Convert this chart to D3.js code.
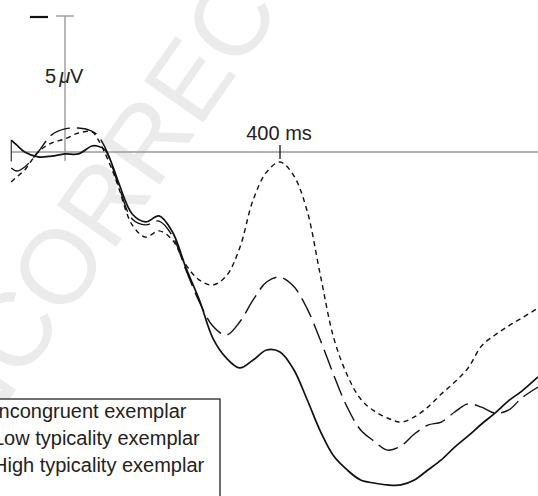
<!DOCTYPE html>
<html>
<head>
<meta charset="utf-8">
<script src="https://cdn.jsdelivr.net/npm/d3@7"></script>
<style>
  body { margin: 0; background: #fff; }
  svg { display: block; }
  text { font-family: "Liberation Sans", Arial, Helvetica, sans-serif; fill: #222; }
</style>
</head>
<body>
<div id="vis"></div>
<script>
const WIDTH = 538;
const HEIGHT = 496;

// ERP waveforms, time in ms, amplitude in microvolts (negative plotted up)
const times = [-100, -90, -75, -50, -25, 0, 25, 50, 60, 75, 90, 100, 125, 150, 175, 200, 225, 250, 275, 300,
  325, 350, 375, 400, 425, 450, 475, 500, 525, 550, 575, 600, 625, 650, 675, 700, 725, 750, 775, 800, 825, 850, 880];

const incongruent = [1.10, 0.92, 0.66, 0, -0.33, -0.48, -0.70, -0.74, -0.51, 0.07, 0.77, 1.32, 2.68, 3.13, 2.90, 3.24,
  4.15, 4.71, 4.89, 4.56, 3.53, 1.76, 0.74, 0.37, 0.85, 2.13, 4.52, 6.84, 8.20, 9.08, 9.52, 9.78, 9.93, 9.74,
  9.38, 8.90, 8.46, 7.94, 7.13, 6.73, 6.40, 6.10, 5.74];

const lowTypicality = [0.59, 0.70, 0.55, 0, -0.63, -0.85, -0.88, -0.77, -0.63, -0.15, 0.66, 1.25, 2.46, 2.68, 2.54, 3.09,
  4.34, 5.51, 6.40, 6.73, 6.25, 5.44, 4.78, 4.60, 4.93, 5.74, 6.91, 8.20, 9.38, 10.22, 10.63, 10.96, 10.81, 10.37,
  10.04, 9.93, 9.56, 9.26, 9.38, 9.60, 9.49, 9.04, 8.64];

const highTypicality = [-0.44, -0.26, 0, 0.18, 0.15, 0.07, 0.07, -0.22, -0.22, -0.07, 0.59, 1.14, 2.28, 2.57, 2.35, 2.94,
  4.26, 5.44, 6.84, 7.57, 7.94, 7.65, 7.28, 7.35, 7.98, 9.08, 10.26, 11.18, 11.69, 12.06, 12.17, 12.24, 12.24, 12.06,
  11.69, 11.32, 10.85, 10.44, 10.00, 9.60, 9.15, 8.79, 8.27];

const legendLabels = ["Incongruent exemplar", "Low typicality exemplar", "High typicality exemplar"];
const timeTick = 400;
const voltTick = -5;

const SVG = d3.select("#vis").append("svg")
  .attr("width", WIDTH)
  .attr("height", HEIGHT);

const x = d3.scaleLinear().domain([0, 400]).range([65, 280]);
const y = d3.scaleLinear().domain([-5, 0]).range([16, 152]);

// faint watermark behind everything
SVG.append("text")
  .attr("transform", "translate(-66,507) rotate(-55)")
  .style("font-size", "105px")
  .style("fill", "#ebebeb")
  .text("UNCORRECTED PROOF");

// axes (grey)
const axisColor = "#9a9a9a";
SVG.append("line")
  .attr("x1", x(times[0])).attr("x2", WIDTH)
  .attr("y1", y(0)).attr("y2", y(0))
  .attr("stroke", axisColor).attr("stroke-width", 1.6);

SVG.append("line")
  .attr("x1", x(0)).attr("x2", x(0))
  .attr("y1", y(voltTick)).attr("y2", y(0) + 9)
  .attr("stroke", axisColor).attr("stroke-width", 1.4);

SVG.append("line")
  .attr("x1", x(0) - 9).attr("x2", x(0) + 9)
  .attr("y1", y(voltTick)).attr("y2", y(voltTick))
  .attr("stroke", axisColor).attr("stroke-width", 1.4);

// negative-up marker
SVG.append("line")
  .attr("x1", 30).attr("x2", 48)
  .attr("y1", y(voltTick) + 1).attr("y2", y(voltTick) + 1)
  .attr("stroke", "#111").attr("stroke-width", 2.2);

const voltLabel = SVG.append("text")
  .attr("x", 45).attr("y", 83)
  .style("font-size", "20px");
voltLabel.append("tspan").text("5");
voltLabel.append("tspan").attr("dx", 3).style("font-style", "italic").text("\u03bc");
voltLabel.append("tspan").text("V");

// 400 ms tick and label
SVG.append("line")
  .attr("x1", x(timeTick)).attr("x2", x(timeTick))
  .attr("y1", y(0) - 7).attr("y2", y(0) + 7)
  .attr("stroke", "#111").attr("stroke-width", 1.3);

SVG.append("text")
  .attr("x", x(timeTick) - 1).attr("y", 140)
  .attr("text-anchor", "middle")
  .style("font-size", "20px")
  .text(timeTick + " ms");

// epoch start marker
SVG.append("line")
  .attr("x1", x(times[0])).attr("x2", x(times[0]))
  .attr("y1", y(-0.42)).attr("y2", y(0.35))
  .attr("stroke", "#222").attr("stroke-width", 1.1);

// waveforms
const series = [
  { name: legendLabels[0], values: incongruent, dash: "5,4" },
  { name: legendLabels[1], values: lowTypicality, dash: "21,7" },
  { name: legendLabels[2], values: highTypicality, dash: null }
];

const line = d3.line()
  .x(d => x(d[0]))
  .y(d => y(d[1]))
  .curve(d3.curveCatmullRom.alpha(0.5));

SVG.selectAll(".wave")
  .data(series)
  .join("path")
  .attr("class", "wave")
  .attr("d", s => line(times.map((t, i) => [t, s.values[i]])))
  .attr("fill", "none")
  .attr("stroke", "#111")
  .attr("stroke-width", s => s.dash ? 1.4 : 1.7)
  .attr("stroke-dasharray", s => s.dash);

// legend box (cut by the left and bottom edges)
SVG.append("rect")
  .attr("x", -10).attr("y", 399)
  .attr("width", 230).attr("height", 120)
  .attr("fill", "#fff")
  .attr("stroke", "#333")
  .attr("stroke-width", 1.4);

SVG.selectAll(".legend")
  .data(legendLabels)
  .join("text")
  .attr("class", "legend")
  .attr("x", -7)
  .attr("y", (d, i) => 418 + i * 27)
  .style("font-size", "20px")
  .text(d => d);
</script>
</body>
</html>
